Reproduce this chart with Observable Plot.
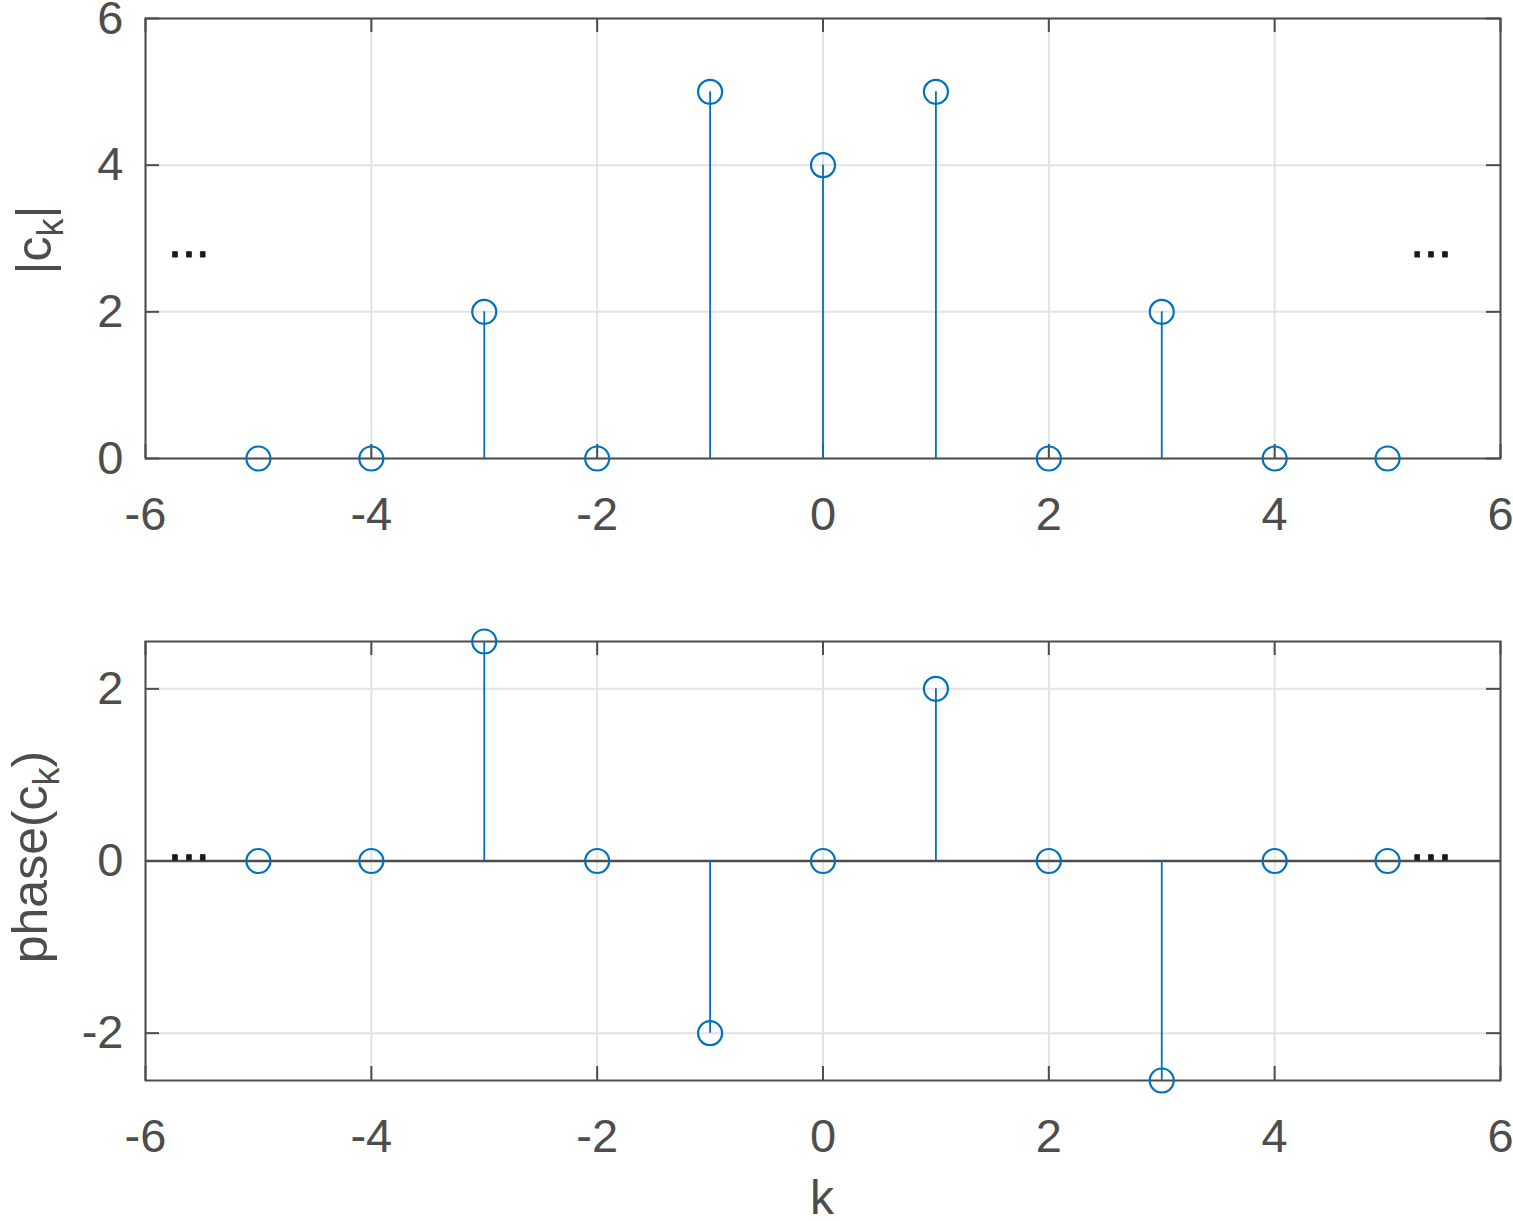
<!DOCTYPE html>
<html>
<head>
<meta charset="utf-8">
<script src="https://cdn.jsdelivr.net/npm/d3@7"></script>
<script src="https://cdn.jsdelivr.net/npm/@observablehq/plot@0.6"></script>
<style>
  html, body { margin: 0; padding: 0; background: #fff; }
  #chart { width: 1513px; height: 1221px; position: relative; }
  #chart svg { display: block; }
</style>
</head>
<body>
<div id="chart"></div>
<script>
// ---- data ----
const k = [-5, -4, -3, -2, -1, 0, 1, 2, 3, 4, 5];
const magnitude = [0, 0, 2, 0, 5, 4, 5, 0, 2, 0, 0];
const phase = [0, 0, 2.55, 0, -2, 0, 2, 0, -2.55, 0, 0];
const xTicks = [-6, -4, -2, 0, 2, 4, 6];
const magTicks = [0, 2, 4, 6];
const phaseTicks = [-2, 0, 2];
const ellipsisMag = [{x: -5.8, y: 2.8}, {x: 5.2, y: 2.8}];
const ellipsisPhase = [{x: -5.8, y: 0.06}, {x: 5.2, y: 0.06}];

const magData = k.map((d, i) => ({k: d, v: magnitude[i]}));
const phaseData = k.map((d, i) => ({k: d, v: phase[i]}));

const AXIS = "#4d4d4d";
const GRID = "#e3e3e3";
const BLUE = "#0072BD";
const FONT = "Liberation Sans, Arial, Helvetica, sans-serif";
const W = 1513;
const ML = 145, MR = 13;
const TICK = 14;
const fmt = d => String(d);

function panel({data, yDomain, yTicks, height, marginTop, marginBottom, dots, baseline}) {
  const ph = height - marginTop - marginBottom;
  const pw = W - ML - MR;
  return Plot.plot({
    width: W,
    height,
    marginLeft: ML,
    marginRight: MR,
    marginTop,
    marginBottom,
    style: {fontFamily: FONT, fontSize: "47px", color: AXIS, background: "white", overflow: "visible"},
    x: {domain: [-6, 6], ticks: xTicks},
    y: {domain: yDomain, ticks: yTicks},
    marks: [
      Plot.gridX(xTicks, {stroke: GRID, strokeOpacity: 1, strokeWidth: 2}),
      Plot.gridY(yTicks, {stroke: GRID, strokeOpacity: 1, strokeWidth: 2}),
      Plot.tickX(xTicks, {x: d => d, insetTop: ph - TICK, stroke: AXIS, strokeWidth: 2}),
      Plot.tickX(xTicks, {x: d => d, insetBottom: ph - TICK, stroke: AXIS, strokeWidth: 2}),
      Plot.tickY(yTicks, {y: d => d, insetRight: pw - TICK, stroke: AXIS, strokeWidth: 2}),
      Plot.tickY(yTicks, {y: d => d, insetLeft: pw - TICK, stroke: AXIS, strokeWidth: 2}),
      Plot.frame({stroke: AXIS, strokeWidth: 2}),
      baseline ? Plot.ruleY([0], {stroke: AXIS, strokeWidth: 2.5}) : null,
      Plot.ruleX(data, {x: "k", y1: 0, y2: "v", stroke: BLUE, strokeWidth: 1.8}),
      Plot.dot(data, {x: "k", y: "v", r: 12, stroke: BLUE, strokeWidth: 2.2, fill: "none"}),
      Plot.text(dots, {x: "x", y: "y", text: () => "...", textAnchor: "start", fontSize: 50, fill: "#1a1a1a", stroke: "#1a1a1a", strokeWidth: 0.8, dy: -12}),
      Plot.axisX(xTicks, {tickSize: 0, tickPadding: 38, fontSize: 47, fill: AXIS, label: null, tickFormat: fmt}),
      Plot.axisY(yTicks, {tickSize: 0, tickPadding: 22, fontSize: 47, fill: AXIS, label: null, tickFormat: fmt})
    ]
  });
}

const topPanel = panel({
  data: magData, yDomain: [0, 6], yTicks: magTicks,
  height: 600, marginTop: 18, marginBottom: 142, dots: ellipsisMag, baseline: false
});
const bottomPanel = panel({
  data: phaseData, yDomain: [-2.55, 2.55], yTicks: phaseTicks,
  height: 621, marginTop: 41, marginBottom: 141, dots: ellipsisPhase, baseline: true
});

const chart = document.getElementById("chart");
chart.appendChild(topPanel);
chart.appendChild(bottomPanel);

function yLabel(svg, cx, cy, parts) {
  const t = d3.select(svg).append("text")
    .attr("transform", `translate(${cx},${cy}) rotate(-90)`)
    .attr("text-anchor", "middle")
    .attr("font-family", FONT)
    .attr("font-size", 50)
    .attr("fill", AXIS);
  parts.forEach(p => {
    const s = t.append("tspan").text(p.text);
    if (p.sub) s.attr("font-size", 36).attr("dy", 12);
    else if (p.after) s.attr("dy", -12);
  });
}
yLabel(topPanel, 51, 240, [{text: "|c"}, {text: "k", sub: true}, {text: "|", after: true}]);
yLabel(bottomPanel, 47, 257, [{text: "phase(c"}, {text: "k", sub: true}, {text: ")", after: true}]);

d3.select(bottomPanel).append("text")
  .attr("x", 822).attr("y", 614)
  .attr("text-anchor", "middle")
  .attr("font-family", FONT)
  .attr("font-size", 48)
  .attr("fill", AXIS)
  .text("k");
</script>
</body>
</html>
